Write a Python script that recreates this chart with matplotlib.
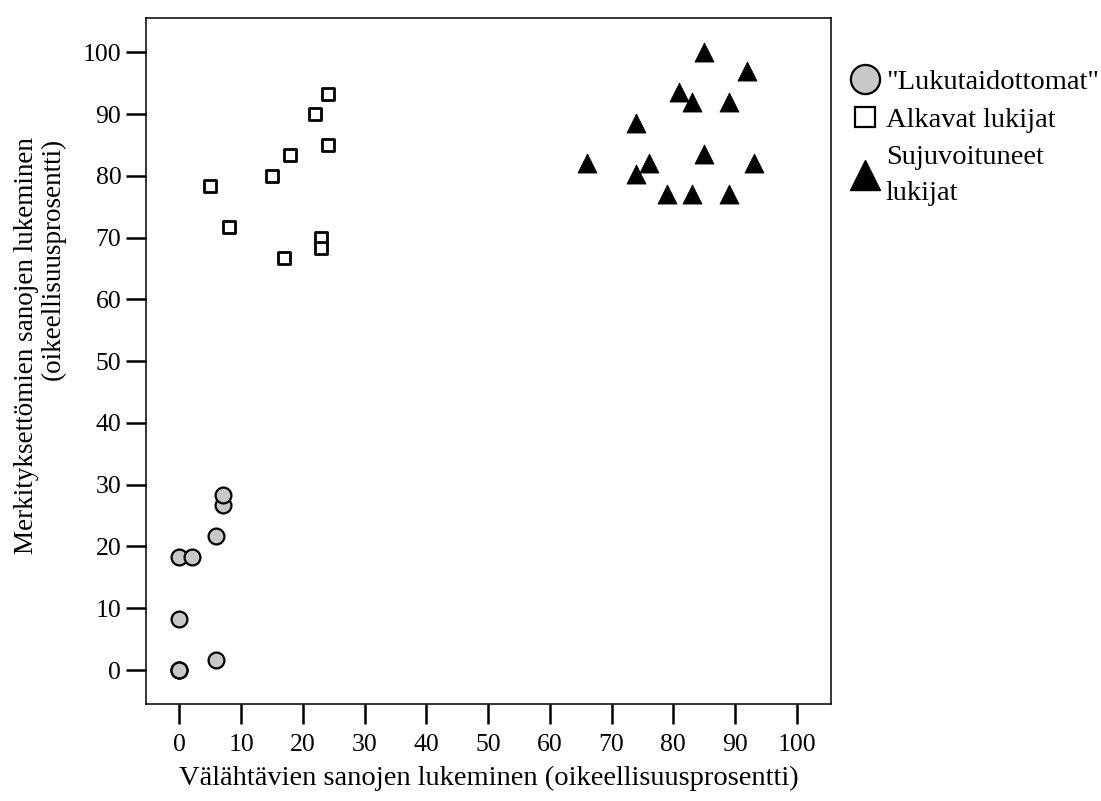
import numpy as np
import matplotlib
matplotlib.use('Agg')
import matplotlib.pyplot as plt
from matplotlib.lines import Line2D

plt.rcParams['font.family'] = ['Liberation Serif', 'DejaVu Serif']

# --- Données ---
# "Lukutaidottomat" (ympyrät)
luku_x = [0, 0, 0, 6, 0, 0, 2, 6, 7, 7]
luku_y = [0, 0, 0, 1.7, 8.3, 18.3, 18.3, 21.7, 26.7, 28.3]

# Alkavat lukijat (neliöt)
alk_x = [24, 22, 24, 18, 15, 5, 8, 23, 23, 17]
alk_y = [93.3, 90, 85, 83.3, 80, 78.3, 71.7, 70, 68.3, 66.7]

# Sujuvoituneet lukijat (kolmiot)
suj_x = [85, 92, 81, 83, 89, 74, 85, 66, 76, 93, 74, 79, 83, 89]
suj_y = [100, 97, 93.5, 92, 92, 88.5, 83.5, 82, 82, 82, 80.3, 77, 77, 77]

ticks = list(range(0, 101, 10))

fig = plt.figure(figsize=(11.01, 8.01), dpi=100)
ax = fig.add_axes([0.1323, 0.1207, 0.6225, 0.8572])

ax.scatter(luku_x, luku_y, s=130, marker='o', facecolor='#c8c8c8',
           edgecolor='black', linewidth=1.6, zorder=3)
ax.scatter(alk_x, alk_y, s=80, marker='s', facecolor='white',
           edgecolor='black', linewidth=2.0, zorder=3)
ax.scatter(suj_x, suj_y, s=190, marker='^', facecolor='black',
           edgecolor='black', linewidth=0.5, zorder=3)

ax.set_xlim(-5.45, 105.55)
ax.set_ylim(-5.55, 105.6)
ax.set_xticks(ticks)
ax.set_yticks(ticks)
ax.tick_params(direction='out', length=14.5, width=1.8, labelsize=18.5)
ax.tick_params(axis='y', pad=3)
ax.tick_params(axis='x', pad=7)
for s in ax.spines.values():
    s.set_linewidth(1.1)

ax.set_xlabel('Välähtävien sanojen lukeminen (oikeellisuusprosentti)',
              fontsize=20.5, labelpad=7)
fig.text(0.036, 0.568, 'Merkityksettömien sanojen lukeminen\n(oikeellisuusprosentti)',
         rotation=90, ha='center', va='center', multialignment='right',
         fontsize=19.5, linespacing=1.1)

# Selite
handles = [
    Line2D([], [], linestyle='none', marker='o', markersize=21,
           markerfacecolor='#c8c8c8', markeredgecolor='black', markeredgewidth=1.6),
    Line2D([], [], linestyle='none', marker='s', markersize=15,
           markerfacecolor='white', markeredgecolor='black', markeredgewidth=1.6),
    Line2D([], [], linestyle='none', marker='^', markersize=22,
           markerfacecolor='black', markeredgecolor='black'),
]
labels = ['"Lukutaidottomat"', 'Alkavat lukijat', 'Sujuvoituneet\nlukijat']
leg = fig.legend(handles, labels, loc='upper left', bbox_to_anchor=(0.762, 0.928),
                 frameon=False, fontsize=20.5, handletextpad=0.25, handlelength=1.0,
                 labelspacing=0.42, borderaxespad=0)
leg.get_texts()[2].set_linespacing(1.6)

fig.savefig('out.png', dpi=100)
